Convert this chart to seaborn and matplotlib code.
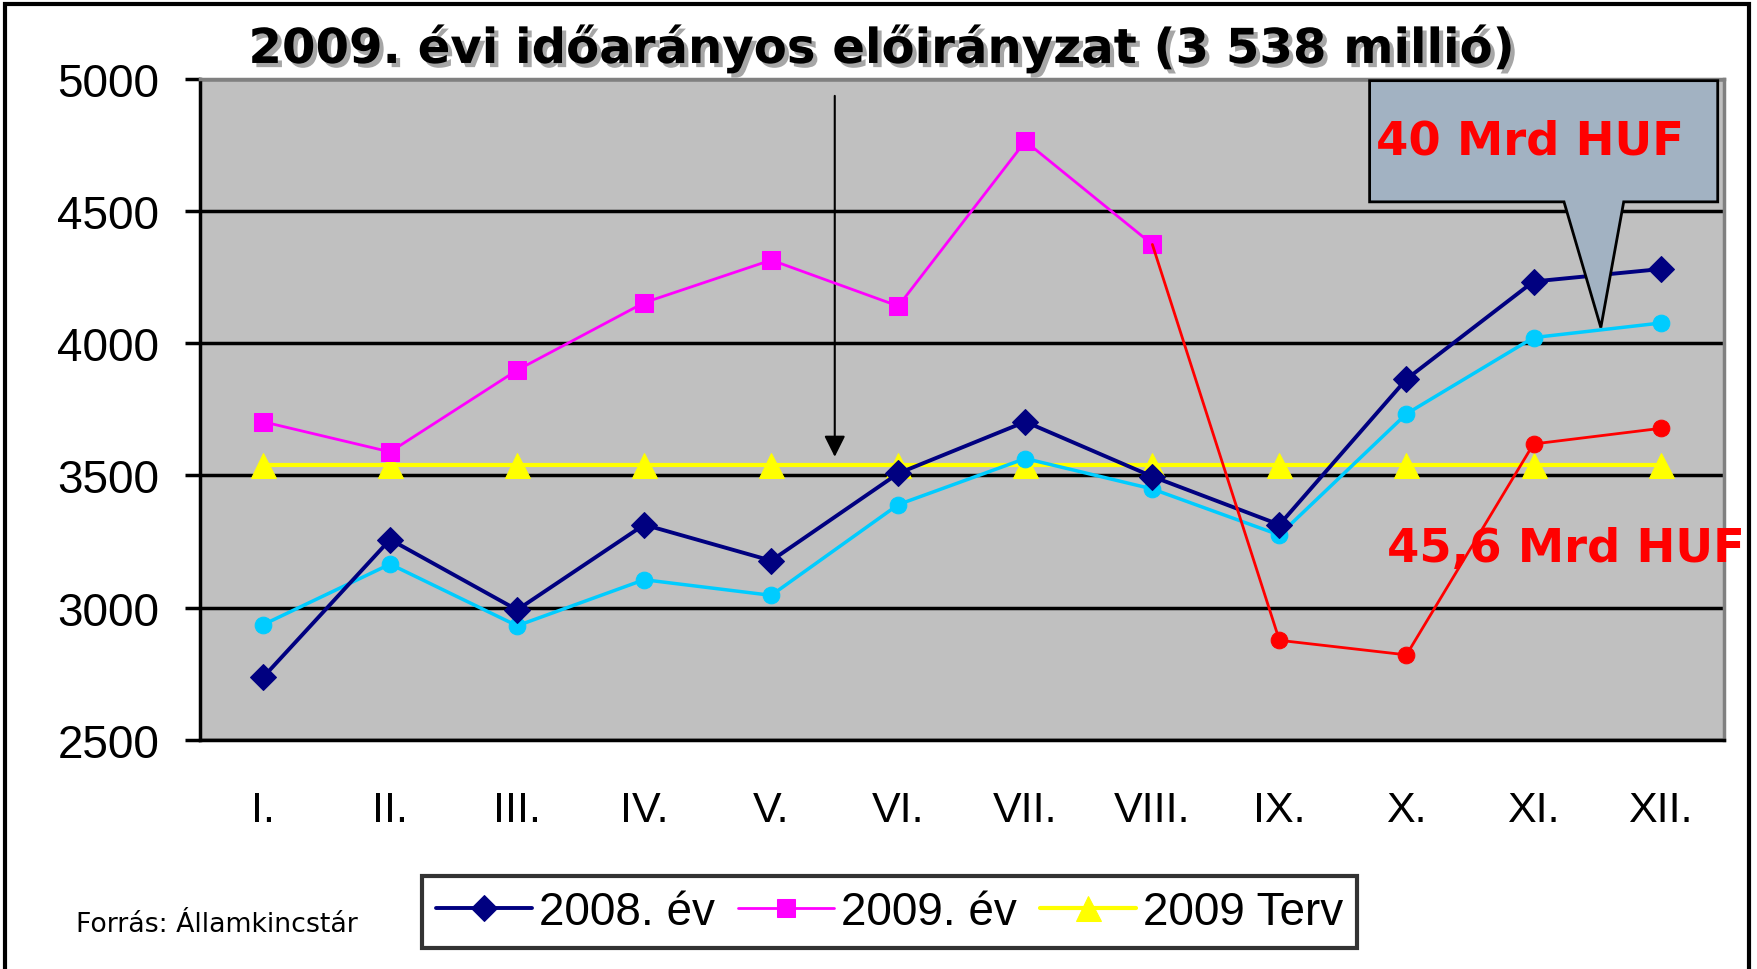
import numpy as np
import pandas as pd
import matplotlib
matplotlib.use('Agg')
import matplotlib.pyplot as plt
import matplotlib.patheffects as pe
from matplotlib.patches import Polygon, Rectangle
import seaborn as sns

# havi adatok (millió Ft)
months = ['I.', 'II.', 'III.', 'IV.', 'V.', 'VI.', 'VII.', 'VIII.', 'IX.', 'X.', 'XI.', 'XII.']
ev_2008 = [2737, 3258, 2992, 3314, 3178, 3508, 3703, 3496, 3314, 3864, 4233, 4280]
ev_2009 = [3703, 3589, 3898, 4153, 4314, 4140, 4763, 4373]
terv_2009 = [3538] * 12
kek_sor = [2936, 3165, 2932, 3106, 3047, 3390, 3564, 3449, 3275, 3733, 4021, 4076]
piros_sor = [4373, 2877, 2822, 3619, 3678]   # VIII.-tól
y_ticks = [2500, 3000, 3500, 4000, 4500, 5000]

pos = np.arange(len(months))

sns.set_style('white')
plt.rcParams['font.family'] = ['Liberation Sans', 'DejaVu Sans']
plt.rcParams['text.color'] = 'black'
plt.rcParams['xtick.color'] = 'black'
plt.rcParams['ytick.color'] = 'black'

fig = plt.figure(figsize=(17.58, 9.70), dpi=100)
ax = fig.add_axes([0.1135, 0.236, 0.8672, 0.682])
ax.set_facecolor('#C0C0C0')

sns.lineplot(x=pos, y=terv_2009, ax=ax, color='#FFFF00', lw=3, marker='^', ms=18,
             mec='#FFFF00', label='2009 Terv', zorder=3)
sns.lineplot(x=pos, y=kek_sor, ax=ax, color='#00CCFF', lw=2.5, marker='o', ms=12,
             mec='#00CCFF', zorder=4, legend=False)
sns.lineplot(x=pos, y=ev_2008, ax=ax, color='#000080', lw=2.8, marker='D', ms=13,
             mec='#000080', label='2008. év', zorder=5)
sns.lineplot(x=pos[7:], y=piros_sor, ax=ax, color='#FF0000', lw=2, marker='o', ms=12,
             mec='#FF0000', markevery=[1, 2, 3, 4], zorder=6, legend=False)
sns.lineplot(x=pos[:len(ev_2009)], y=ev_2009, ax=ax, color='#FF00FF', lw=2, marker='s', ms=13,
             mec='#FF00FF', label='2009. év', zorder=5)

ax.set_xlim(-0.5, len(months) - 0.5)
ax.set_ylim(2500, 5000)
ax.set_yticks(y_ticks)
ax.set_yticklabels([str(v) for v in y_ticks], fontsize=33)
ax.set_xticks(pos)
ax.set_xticklabels(months, fontsize=31)
ax.set_xticks(np.arange(-0.5, len(months), 1), minor=True)
ax.tick_params(axis='x', which='major', length=0, pad=36)
ax.tick_params(axis='x', which='minor', length=11, width=2, color='black')
ax.tick_params(axis='y', length=11, width=2.5, color='black', pad=18, left=True)
ax.set_xlabel('')
ax.set_ylabel('')

ax.yaxis.grid(True, color='black', lw=2.5, zorder=1)
ax.set_axisbelow(True)
for side in ['top', 'right']:
    ax.spines[side].set_color('#808080')
    ax.spines[side].set_linewidth(2.5)
for side in ['left', 'bottom']:
    ax.spines[side].set_color('black')
    ax.spines[side].set_linewidth(2.5)

# nyíl a V. és VI. hónap között
ax.annotate('', xy=(4.5, 3560), xytext=(4.5, 4945),
            arrowprops=dict(arrowstyle='-|>', color='black', lw=1.5, mutation_scale=32))

# szövegbuborék
bubble = Polygon([(8.71, 4992), (11.45, 4992), (11.45, 4534), (10.71, 4534),
                  (10.53, 4059), (10.24, 4534), (8.71, 4534)],
                 closed=True, facecolor='#A2B2C2', edgecolor='black', lw=2, zorder=8)
ax.add_patch(bubble)
ax.text(8.76, 4763, '40 Mrd HUF', color='#FF0000', fontsize=33.5, fontweight='bold',
        family='DejaVu Sans', va='center', ha='left', zorder=9)
ax.text(8.85, 3225, '45,6 Mrd HUF', color='#FF0000', fontsize=33.5, fontweight='bold',
        family='DejaVu Sans', va='center', ha='left', zorder=9, clip_on=False)

fig.text(0.5006, 0.949, '2009. évi időarányos előirányzat (3 538 millió)', fontsize=34.7,
         fontweight='bold', family='DejaVu Sans', ha='center', va='center', color='black',
         path_effects=[pe.withSimplePatchShadow(offset=(3, -3), shadow_rgbFace='#808080', alpha=0.7)])
fig.text(0.043, 0.046, 'Forrás: Államkincstár', fontsize=19.3, family='DejaVu Sans',
         ha='left', va='center')

handles, labels = ax.get_legend_handles_labels()
order = [labels.index(l) for l in ['2008. év', '2009. év', '2009 Terv']]
leg = ax.legend([handles[i] for i in order], [labels[i] for i in order],
                loc='center', bbox_to_anchor=(0.506, 0.059), bbox_transform=fig.transFigure,
                ncol=3, fontsize=33, frameon=True, fancybox=False, edgecolor='black',
                handlelength=2.1, handletextpad=0.15, columnspacing=0.5, borderpad=0.3)
leg.get_frame().set_linewidth(3)

fig.patches.append(Rectangle((0.003, -0.05), 0.992, 1.045, transform=fig.transFigure,
                             fill=False, edgecolor='black', lw=3))

plt.savefig('out.png', dpi=100)
